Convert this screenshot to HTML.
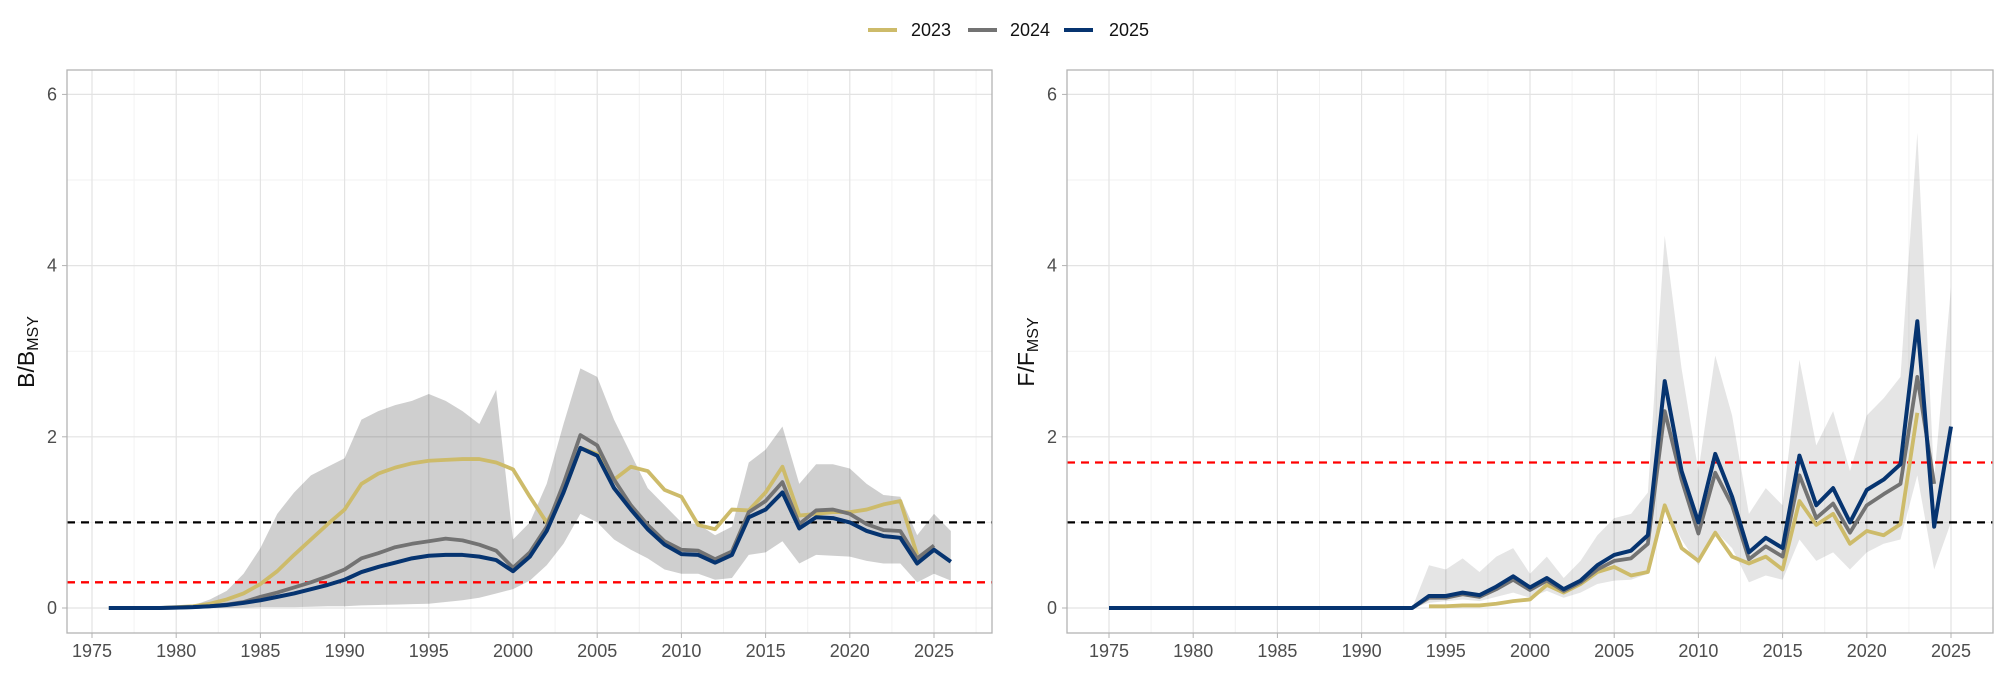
<!DOCTYPE html>
<html><head><meta charset="utf-8"><style>
html,body{margin:0;padding:0;background:#fff;}
svg{display:block;font-family:"Liberation Sans",sans-serif;}
</style></head><body>
<svg id="s" width="2000" height="700" xmlns="http://www.w3.org/2000/svg"></svg>
<script>
const S=document.getElementById('s');let h='';
const Y0=608,PU=85.6,TOP=70,BOT=633;
function panel(x0,x1,x1975,ylab){
  const px=y=>x1975+(y-1975)*16.84, py=v=>Y0-v*PU;
  let o='';
  for(let v=1;v<=6;v+=2)o+=`<line x1="${x0}" x2="${x1}" y1="${py(v)}" y2="${py(v)}" stroke="#f2f2f2" stroke-width="1"/>`;
  for(let y=1972.5;y<=2030;y+=5){const x=px(y);if(x>x0&&x<x1)o+=`<line x1="${x}" x2="${x}" y1="${TOP}" y2="${BOT}" stroke="#f2f2f2"/>`;}
  for(let v=0;v<=6;v+=2)o+=`<line x1="${x0}" x2="${x1}" y1="${py(v)}" y2="${py(v)}" stroke="#e3e3e3" stroke-width="1.2"/><line x1="${x0-5}" x2="${x0}" y1="${py(v)}" y2="${py(v)}" stroke="#b3b3b3"/><text x="${x0-10}" y="${py(v)+6}" text-anchor="end" font-size="18" fill="#4d4d4d">${v}</text>`;
  for(let y=1975;y<=2025;y+=5){const x=px(y);o+=`<line x1="${x}" x2="${x}" y1="${TOP}" y2="${BOT}" stroke="#e3e3e3" stroke-width="1.2"/><line x1="${x}" x2="${x}" y1="${BOT}" y2="${BOT+5}" stroke="#b3b3b3"/><text x="${x}" y="657" text-anchor="middle" font-size="18" fill="#4d4d4d">${y}</text>`;}
  o+=`<text transform="translate(${x0-33},352) rotate(-90)" text-anchor="middle" font-size="23" fill="#111">${ylab}/${ylab}<tspan font-size="16" dy="4">MSY</tspan></text>`;
  return {o,px,py};
}
function path(P,start,arr,col,w){return `<polyline fill="none" stroke="${col}" stroke-width="${w}" stroke-linejoin="round" points="${arr.map((v,i)=>P.px(start+i)+','+P.py(v)).join(' ')}"/>`;}
function band(P,start,up,lo,op){let pts=up.map((v,i)=>P.px(start+i)+','+P.py(v));for(let i=lo.length-1;i>=0;i--)pts.push(P.px(start+i)+','+P.py(lo[i]));return `<polygon fill="#000" fill-opacity="${op}" points="${pts.join(' ')}"/>`;}
function hline(x0,x1,P,v,c){return `<line x1="${x0}" x2="${x1}" y1="${P.py(v)}" y2="${P.py(v)}" stroke="${c}" stroke-width="2.3" stroke-dasharray="8,6"/>`;}
let L=panel(67,992,92,'B');h+=L.o;
const bUp=[0,0,0,0,0.01,0.03,0.1,0.2,0.4,0.7,1.1,1.35,1.55,1.65,1.75,2.2,2.3,2.37,2.42,2.5,2.42,2.3,2.15,2.55,0.8,1.0,1.45,2.15,2.8,2.7,2.2,1.8,1.4,1.2,1.0,0.98,0.85,0.95,1.7,1.85,2.12,1.45,1.68,1.68,1.63,1.45,1.32,1.3,0.85,1.1,0.9];
const bLo=[0,0,0,0,0,0,0,0,0.005,0.01,0.01,0.01,0.015,0.02,0.02,0.03,0.035,0.04,0.045,0.05,0.07,0.09,0.12,0.17,0.22,0.32,0.5,0.75,1.1,1.0,0.8,0.68,0.58,0.45,0.4,0.4,0.33,0.35,0.62,0.65,0.78,0.52,0.62,0.61,0.6,0.55,0.52,0.52,0.3,0.4,0.32];
h+=band(L,1976,bUp,bLo,0.19);
h+=hline(67,992,L,1,'#000')+hline(67,992,L,0.3,'#f00');
h+=path(L,1976,[0,0,0,0,0,0.01,0.02,0.05,0.1,0.17,0.28,0.43,0.62,0.8,0.98,1.15,1.45,1.57,1.64,1.69,1.72,1.73,1.74,1.74,1.7,1.62,1.3,1.0,1.35,1.87,1.8,1.5,1.65,1.6,1.38,1.3,0.97,0.92,1.15,1.14,1.35,1.65,1.08,1.1,1.12,1.12,1.15,1.21,1.25,0.62].slice(1),'#cdbb6a',3.8);
h+=path(L,1976,[0,0,0,0,0.005,0.01,0.02,0.04,0.07,0.13,0.18,0.24,0.3,0.37,0.45,0.58,0.64,0.71,0.75,0.78,0.81,0.79,0.74,0.67,0.47,0.65,0.95,1.45,2.02,1.9,1.5,1.2,0.97,0.78,0.68,0.67,0.57,0.66,1.12,1.25,1.47,0.98,1.14,1.15,1.1,0.98,0.91,0.9,0.58,0.73],'#737373',3.8);
h+=path(L,1976,[0,0,0,0,0.005,0.01,0.02,0.035,0.06,0.09,0.13,0.17,0.22,0.27,0.33,0.42,0.48,0.53,0.58,0.61,0.62,0.62,0.6,0.56,0.43,0.6,0.9,1.35,1.87,1.78,1.4,1.15,0.92,0.74,0.63,0.62,0.53,0.62,1.06,1.15,1.35,0.93,1.06,1.05,1.0,0.9,0.84,0.82,0.52,0.68,0.54],'#063470',4);
h+=`<rect x="67" y="${TOP}" width="925" height="${BOT-TOP}" fill="none" stroke="#b3b3b3" stroke-width="1.3"/>`;
let R=panel(1067,1993,1109,'F');h+=R.o;
const fUp=[0,0.5,0.45,0.58,0.42,0.6,0.7,0.4,0.6,0.35,0.55,0.85,1.05,1.1,1.35,4.35,2.8,1.6,2.95,2.25,1.1,1.4,1.2,2.9,1.9,2.3,1.6,2.25,2.45,2.7,5.55,1.5,3.75];
const fLo=[0,0.06,0.08,0.1,0.08,0.13,0.18,0.12,0.2,0.12,0.18,0.28,0.32,0.33,0.4,1.2,0.8,0.5,0.9,0.7,0.3,0.38,0.33,0.8,0.55,0.65,0.45,0.65,0.75,0.8,1.55,0.45,1.0];
h+=band(R,1993,fUp,fLo,0.1);
h+=hline(1067,1993,R,1,'#000')+hline(1067,1993,R,1.7,'#f00');
h+=path(R,1994,[0.02,0.02,0.03,0.03,0.05,0.08,0.1,0.27,0.18,0.28,0.42,0.48,0.38,0.42,1.2,0.7,0.55,0.88,0.6,0.52,0.6,0.45,1.25,0.97,1.1,0.75,0.9,0.85,0.98,2.28],'#cdbb6a',3.8);
h+=path(R,1993,[0,0.12,0.12,0.16,0.13,0.22,0.33,0.21,0.32,0.2,0.3,0.45,0.55,0.58,0.75,2.3,1.5,0.87,1.58,1.2,0.57,0.72,0.6,1.55,1.05,1.22,0.88,1.2,1.33,1.45,2.7,1.45],'#737373',3.8);
let fb=[];for(let i=0;i<18;i++)fb.push(0);
h+=path(R,1975,fb.concat([0,0.14,0.14,0.18,0.15,0.25,0.37,0.24,0.35,0.22,0.32,0.5,0.62,0.67,0.85,2.65,1.6,1.0,1.8,1.3,0.65,0.82,0.7,1.78,1.2,1.4,1.0,1.38,1.5,1.68,3.35,0.95,2.12]),'#063470',4);
h+=`<rect x="1067" y="${TOP}" width="926" height="${BOT-TOP}" fill="none" stroke="#b3b3b3" stroke-width="1.3"/>`;
h+=`<line x1="868" x2="897" y1="30" y2="30" stroke="#cdbb6a" stroke-width="4"/><text x="911" y="36" font-size="18" fill="#111">2023</text>`;
h+=`<line x1="968" x2="997" y1="30" y2="30" stroke="#737373" stroke-width="4"/><text x="1010" y="36" font-size="18" fill="#111">2024</text>`;
h+=`<line x1="1064" x2="1093" y1="30" y2="30" stroke="#063470" stroke-width="4"/><text x="1109" y="36" font-size="18" fill="#111">2025</text>`;
S.innerHTML=h;
</script>
</body></html>
